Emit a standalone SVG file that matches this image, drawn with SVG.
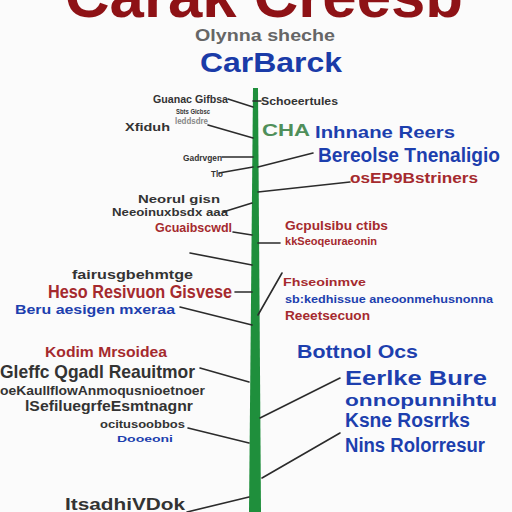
<svg xmlns="http://www.w3.org/2000/svg" width="512" height="512" viewBox="0 0 512 512">
<style>
text{font-family:"Liberation Sans",Arial,sans-serif;font-weight:bold}
.d{fill:#333333}
.r{fill:#a52a2e}
.b{fill:#1d3fae}
.g{fill:#4f8f5a}
.c{stroke:#2b2b2b;stroke-width:1.6;fill:none;stroke-linecap:round}
</style>
<rect width="512" height="512" fill="#fbfbfb"/>
<g id="title">
<text x="65" y="17" font-size="62" fill="#8e1216" textLength="398" lengthAdjust="spacingAndGlyphs">Carak Creesb</text>
<text x="195" y="41" font-size="16" fill="#666" font-weight="normal" textLength="140" lengthAdjust="spacingAndGlyphs">Olynna sheche</text>
<text x="200" y="72" font-size="28" fill="#1a3ba8" textLength="142" lengthAdjust="spacingAndGlyphs">CarBarck</text>
</g>
<g id="trunk">
<polygon points="253,88 258,88 261,512 249,512" fill="#1f8f3c"/>
</g>
<g id="connectors">
<path class="c" d="M228,99 L253,107"/>
<path class="c" d="M208,125 L253,138"/>
<path class="c" d="M222,157 L253,157"/>
<path class="c" d="M219,173 L253,167"/>
<path class="c" d="M253,101 L261,101"/>
<path class="c" d="M258,167 L313,153"/>
<path class="c" d="M258,192 L350,182"/>
<path class="c" d="M223,212 L252,203"/>
<path class="c" d="M233,232 L252,235"/>
<path class="c" d="M190,253 L252,265"/>
<path class="c" d="M235,292 L252,292"/>
<path class="c" d="M180,307 L252,325"/>
<path class="c" d="M258,243 L280,243"/>
<path class="c" d="M282,273 L258,315"/>
<path class="c" d="M200,368 L249,382"/>
<path class="c" d="M188,428 L249,443"/>
<path class="c" d="M340,378 L260,418"/>
<path class="c" d="M340,433 L262,478"/>
<path class="c" d="M187,512 L249,497"/>
</g>
<g id="n1"><text class="d" x="153" y="103" font-size="10" textLength="75" lengthAdjust="spacingAndGlyphs">Guanac Gifbsa</text></g>
<g id="n2">
<text class="d" x="176" y="114" font-size="8" font-weight="normal" textLength="34" lengthAdjust="spacingAndGlyphs">Sbts Gicbsc</text>
<text class="d" x="125" y="131" font-size="11" font-weight="normal" textLength="45" lengthAdjust="spacingAndGlyphs">Xfiduh</text>
<text x="175" y="124" font-size="9" fill="#888" font-weight="normal" textLength="33" lengthAdjust="spacingAndGlyphs">leddsdre</text>
</g>
<g id="n3"><text class="d" x="183" y="161" font-size="9" textLength="39" lengthAdjust="spacingAndGlyphs">Gadrvgen</text></g>
<g id="n4"><text class="d" x="211" y="177" font-size="9" font-weight="normal" textLength="12" lengthAdjust="spacingAndGlyphs">Tlo</text></g>
<g id="n5">
<text class="d" x="261" y="105" font-size="10" textLength="77" lengthAdjust="spacingAndGlyphs">Schoeertules</text>
</g>
<g id="n6">
<text class="g" x="262" y="136" font-size="17" textLength="48" lengthAdjust="spacingAndGlyphs">CHA</text>
<text class="b" x="315" y="138" font-size="17" font-weight="normal" textLength="140" lengthAdjust="spacingAndGlyphs">Inhnane Reers</text>
<text class="b" x="318" y="162" font-size="21" textLength="182" lengthAdjust="spacingAndGlyphs">Bereolse Tnenaligio</text>
</g>
<g id="n7"><text class="r" x="350" y="183" font-size="15" font-weight="normal" textLength="128" lengthAdjust="spacingAndGlyphs">osEP9Bstriners</text></g>
<g id="n8">
<text class="d" x="138" y="203" font-size="10" textLength="82" lengthAdjust="spacingAndGlyphs">Neorul gisn</text>
<text class="d" x="112" y="216" font-size="10" textLength="116" lengthAdjust="spacingAndGlyphs">Neeoinuxbsdx aaa</text>
</g>
<g id="n9"><text class="r" x="155" y="232" font-size="12" textLength="77" lengthAdjust="spacingAndGlyphs">Gcuaibscwdl</text></g>
<g id="n10">
<text class="d" x="72" y="279" font-size="12" textLength="121" lengthAdjust="spacingAndGlyphs">fairusgbehmtge</text>
<text class="r" x="48" y="298" font-size="18" textLength="184" lengthAdjust="spacingAndGlyphs">Heso Resivuon Gisvese</text>
<text class="b" x="15" y="314" font-size="13" textLength="160" lengthAdjust="spacingAndGlyphs">Beru aesigen mxeraa</text>
</g>
<g id="n11">
<text class="r" x="285" y="230" font-size="13" textLength="103" lengthAdjust="spacingAndGlyphs">Gcpulsibu ctibs</text>
<text class="r" x="285" y="245" font-size="11" textLength="92" lengthAdjust="spacingAndGlyphs">kkSeoqeuraeonin</text>
</g>
<g id="n12">
<text class="r" x="283" y="286" font-size="11" font-weight="normal" textLength="83" lengthAdjust="spacingAndGlyphs">Fhseoinmve</text>
<text class="b" x="285" y="303" font-size="11" font-weight="normal" textLength="208" lengthAdjust="spacingAndGlyphs">sb:kedhissue aneoonmehusnonna</text>
<text class="r" x="285" y="320" font-size="12" textLength="85" lengthAdjust="spacingAndGlyphs">Reeetsecuon</text>
</g>
<g id="n13">
<text class="r" x="45" y="357" font-size="14" textLength="122" lengthAdjust="spacingAndGlyphs">Kodim Mrsoidea</text>
<text class="d" x="0" y="378" font-size="19" font-weight="normal" textLength="195" lengthAdjust="spacingAndGlyphs">Gleffc Qgadl Reauitmor</text>
<text class="d" x="0" y="395" font-size="13" textLength="205" lengthAdjust="spacingAndGlyphs">oeKaullflowAnmoqusnioetnoer</text>
<text class="d" x="25" y="411" font-size="15" textLength="168" lengthAdjust="spacingAndGlyphs">lSefiluegrfeEsmtnagnr</text>
<text class="d" x="100" y="428" font-size="11" textLength="85" lengthAdjust="spacingAndGlyphs">ocitusoobbos</text>
<text class="b" x="117" y="442" font-size="9" textLength="56" lengthAdjust="spacingAndGlyphs">Dooeoni</text>
</g>
<g id="n14">
<text class="b" x="297" y="358" font-size="18" textLength="121" lengthAdjust="spacingAndGlyphs">Bottnol Ocs</text>
<text class="b" x="345" y="385" font-size="21" textLength="142" lengthAdjust="spacingAndGlyphs">Eerlke Bure</text>
<text class="b" x="345" y="406" font-size="17" textLength="152" lengthAdjust="spacingAndGlyphs">onnopunnihtu</text>
<text class="b" x="345" y="427" font-size="20" textLength="125" lengthAdjust="spacingAndGlyphs">Ksne Rosrrks</text>
<text class="b" x="345" y="452" font-size="20" textLength="140" lengthAdjust="spacingAndGlyphs">Nins Rolorresur</text>
</g>
<g id="n15"><text class="d" x="65" y="510" font-size="16" textLength="120" lengthAdjust="spacingAndGlyphs">ItsadhiVDok</text></g>
</svg>
